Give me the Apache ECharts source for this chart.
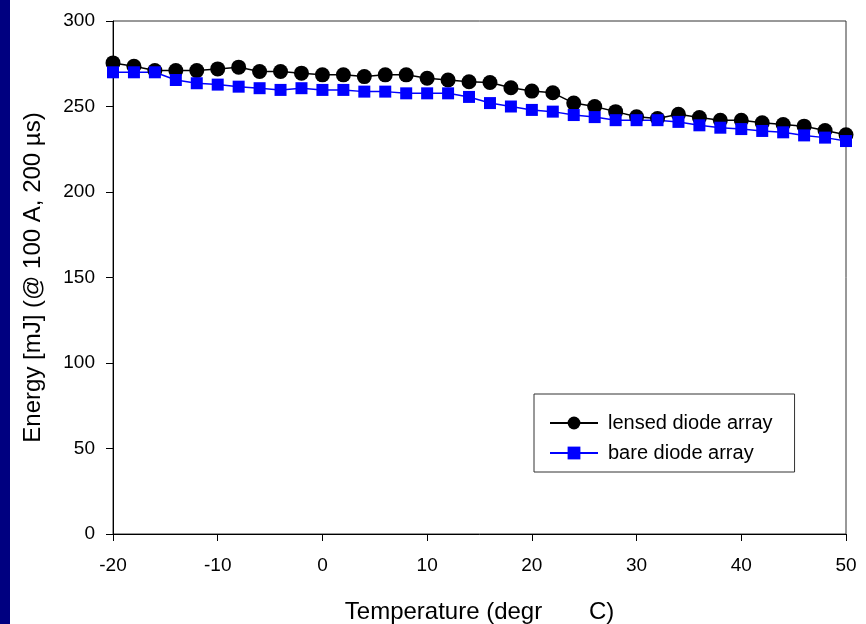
<!DOCTYPE html>
<html>
<head>
<meta charset="utf-8">
<script src="https://cdn.jsdelivr.net/npm/echarts@6/dist/echarts.min.js"></script>
<style>
  html, body { margin: 0; padding: 0; background: #fff; }
  #chart { width: 866px; height: 624px; }
</style>
</head>
<body>
<div id="chart"></div>
<script>
// temperature (deg C)
const temps = [-20, -18, -16, -14, -12, -10, -8, -6, -4, -2, 0, 2, 4, 6, 8, 10, 12, 14,
  16, 18, 20, 22, 24, 26, 28, 30, 32, 34, 36, 38, 40, 42, 44, 46, 48, 50];
// energy [mJ]
const lensed = [275.5, 273.5, 271, 271, 271, 272, 273, 270.5, 270.5, 269.5, 268.5, 268.5, 267.5, 268.5, 268.5, 266.5, 265.5, 264.5,
  264, 261, 259, 258, 252, 250, 247, 244, 243, 245.5, 243.5, 242, 242, 240.5, 239.5, 238.5, 236, 233.5];
const bare = [270, 270, 270, 265.5, 263.6, 262.8, 261.6, 260.7, 259.7, 260.7, 259.7, 259.7, 258.7, 258.7, 257.7, 257.7, 257.7, 255.6,
  252, 250, 248, 247, 245, 243.8, 242, 242, 242, 241, 239, 237.6, 236.8, 235.7, 234.9, 233.1, 231.8, 229.8];

const seriesNames = ["lensed diode array", "bare diode array"];

const pairs = (ys) => temps.map((t, i) => [t, ys[i]]);

const chart = echarts.init(document.getElementById("chart"));

chart.setOption({
  animation: false,
  backgroundColor: "#fff",
  textStyle: { fontFamily: "Liberation Sans, Arial, sans-serif" },
  graphic: [
    {
      type: "rect",
      left: 0,
      top: 0,
      shape: { width: 10, height: 624 },
      style: { fill: "#000080" },
    },
  ],
  grid: {
    left: 113,
    right: 20,
    top: 21,
    bottom: 90,
    outerBoundsMode: "none",
    show: true,
    borderColor: "#333",
    borderWidth: 1,
  },
  legend: {
    orient: "vertical",
    left: 534,
    top: 394,
    padding: [19, 22, 9, 15],
    itemWidth: 48,
    itemHeight: 16,
    itemGap: 10,
    borderColor: "#333",
    borderWidth: 1,
    textStyle: { fontSize: 20, color: "#000", padding: [0, 0, 0, 5] },
    data: seriesNames,
  },
  xAxis: {
    type: "value",
    min: -20,
    max: 50,
    interval: 10,
    name: "Temperature (degr       C)",
    nameLocation: "middle",
    nameGap: 66,
    nameTextStyle: { fontSize: 24, color: "#000" },
    axisLine: { onZero: false, lineStyle: { color: "#000", width: 1 } },
    axisTick: { length: 7, lineStyle: { color: "#000" } },
    axisLabel: { fontSize: 19, color: "#000", margin: 22 },
    splitLine: { show: false },
  },
  yAxis: {
    type: "value",
    min: 0,
    max: 300,
    interval: 50,
    name: "Energy [mJ] (@ 100 A, 200 µs)",
    nameLocation: "middle",
    nameGap: 68,
    nameTextStyle: { fontSize: 24, color: "#000" },
    axisLine: { show: true, onZero: false, lineStyle: { color: "#000", width: 1 } },
    axisTick: { show: true, length: 7, lineStyle: { color: "#000" } },
    axisLabel: { fontSize: 19, color: "#000", margin: 18 },
    splitLine: { show: false },
  },
  series: [
    {
      name: seriesNames[0],
      type: "line",
      data: pairs(lensed),
      symbol: "circle",
      symbolSize: 15,
      itemStyle: { color: "#000" },
      lineStyle: { color: "#000", width: 1.5 },
    },
    {
      name: seriesNames[1],
      type: "line",
      data: pairs(bare),
      symbol: "rect",
      symbolSize: 12,
      itemStyle: { color: "#0000ff" },
      lineStyle: { color: "#0000ff", width: 1.5 },
    },
  ],
});
</script>
</body>
</html>
